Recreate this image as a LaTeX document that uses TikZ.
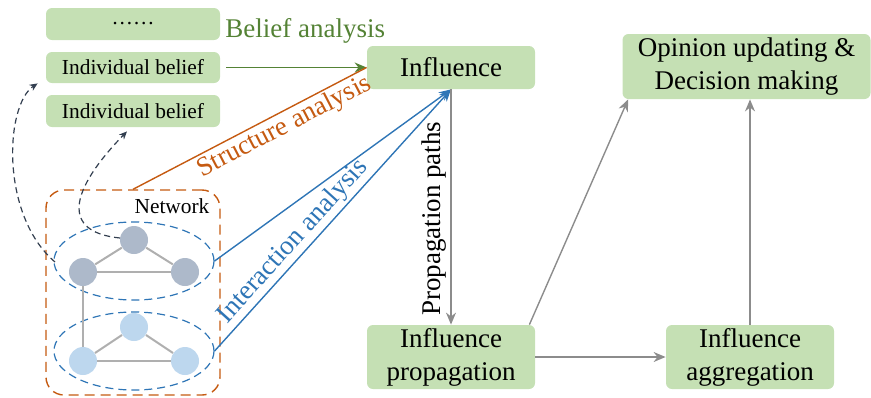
\documentclass[tikz,border=0pt]{standalone}
\usepackage{fontspec}
\setmainfont{Liberation Serif}
\usetikzlibrary{arrows.meta,shapes.geometric}

\definecolor{boxgreen}{HTML}{C5E0B4}
\definecolor{textgreen}{HTML}{548235}
\definecolor{strorange}{HTML}{C55A11}
\definecolor{intblue}{HTML}{2E75B6}
\definecolor{darkslate}{HTML}{333F50}
\definecolor{arrowgray}{HTML}{8C8C8C}
\definecolor{nodegray}{HTML}{ADB9CA}
\definecolor{nodeblue}{HTML}{BDD7EE}
\definecolor{edgegray}{HTML}{AFAFAF}

\tikzset{
	stagebox/.style={rectangle,rounded corners=3pt,fill=boxgreen,draw=none,
		minimum width=84pt,align=center,inner sep=0pt,
		font=\fontsize{13.5}{16.5}\selectfont},
	beliefbox/.style={rectangle,rounded corners=3pt,fill=boxgreen,draw=none,
		minimum width=87pt,minimum height=16pt,inner sep=0pt,
		font=\fontsize{10.7}{12}\selectfont},
	agent/.style={circle,minimum size=14pt,inner sep=0pt,draw=none},
	group/.style={ellipse,draw=intblue,dashed,dash pattern=on 4pt off 2.5pt,
		line width=0.6pt,minimum width=80pt,minimum height=39pt},
	flow/.style={draw=arrowgray,line width=0.7pt,-{Stealth[length=6pt,width=5pt]}},
	trace/.style={draw=darkslate,line width=0.6pt,dashed,dash pattern=on 3pt off 2pt,
		-{Stealth[length=4pt,width=3.5pt]}},
	bigtext/.style={font=\fontsize{13.5}{16.5}\selectfont}
}

\begin{document}
\begin{tikzpicture}[x=0.5pt,y=-0.5pt]
	\useasboundingbox (0,0) rectangle (871,397);

	% belief side
	\node[beliefbox] (dots) at (133,24) {\ldots\ldots};
	\node[beliefbox,minimum height=15.5pt] (ibtop) at (133,67.5) {Individual belief};
	\node[beliefbox] (ibbot) at (133,111) {Individual belief};
	\node[bigtext,text=textgreen,anchor=west,inner sep=0pt] (belief) at (225,31) {Belief analysis};

	% stages
	\node[stagebox,minimum height=21.5pt] (infl) at (451,67.5) {Influence};
	\node[stagebox,minimum width=124pt,minimum height=32.5pt] (opin) at (746.5,66.5) {Opinion updating \&\\Decision making};
	\node[stagebox,minimum height=32pt] (prop) at (451,357) {Influence\\propagation};
	\node[stagebox,minimum height=32pt] (aggr) at (750,357) {Influence\\aggregation};

	% network
	\node[rectangle,draw=strorange,dashed,dash pattern=on 5pt off 3pt,line width=0.7pt,
		rounded corners=9pt,minimum width=87pt,minimum height=102.5pt] (net) at (133,292.5) {};
	\node[font=\fontsize{10.7}{12}\selectfont,inner sep=0pt] (netlabel) at (172,206) {Network};

	\node[group] (upper) at (134,261) {};
	\node[group] (lower) at (134,351) {};

	\node[agent,fill=nodegray] (u1) at (134,240) {};
	\node[agent,fill=nodegray] (u2) at (83,272) {};
	\node[agent,fill=nodegray] (u3) at (185,272) {};
	\node[agent,fill=nodeblue] (l1) at (134,327) {};
	\node[agent,fill=nodeblue] (l2) at (83,361) {};
	\node[agent,fill=nodeblue] (l3) at (185,361) {};
	\foreach \a/\b in {u1/u2,u1/u3,u2/u3,l1/l2,l1/l3,l2/l3,u2/l2}
		\draw[edgegray,line width=1pt] (\a) -- (\b);

	% dashed traces
	\coordinate (tr1) at (55,262);
	\coordinate (tr2) at (120,238);
	\draw[trace] (tr1) .. controls (0,215) and (5,105) .. ([xshift=-4pt]ibtop.south west);
	\draw[trace] (tr2) .. controls (60,232) and (70,190) .. ([xshift=-3pt,yshift=-2pt]ibbot.south);

	% analyses
	\draw[textgreen,line width=0.7pt,-{Stealth[length=6pt,width=5pt]}] ([xshift=3pt]ibtop.east) -- (infl.west);
	\draw[strorange,line width=0.7pt] (net.north) -- (infl.west)
		node[pos=0.62,sloped,below,bigtext,text=strorange,inner sep=1pt] {Structure analysis};
	\draw[intblue,line width=0.7pt,-{Stealth[length=6pt,width=5pt]}] (upper.east) -- (infl.south);
	\draw[intblue,line width=0.7pt,-{Stealth[length=6pt,width=5pt]}] (lower.east) -- (infl.south)
		node[pos=0.38,sloped,above,bigtext,text=intblue,inner sep=1pt] {Interaction analysis};

	% stage flow
	\draw[flow] (infl.south) -- (prop.north)
		node[pos=0.55,rotate=90,anchor=south,bigtext,inner sep=2pt] {Propagation paths};
	\draw[flow] ([xshift=-3pt]prop.north east) -- ([xshift=3pt]opin.south west);
	\draw[flow] (prop.east) -- (aggr.west);
	\draw[flow] (aggr.north) -- (aggr.north |- opin.south);
\end{tikzpicture}
\end{document}
